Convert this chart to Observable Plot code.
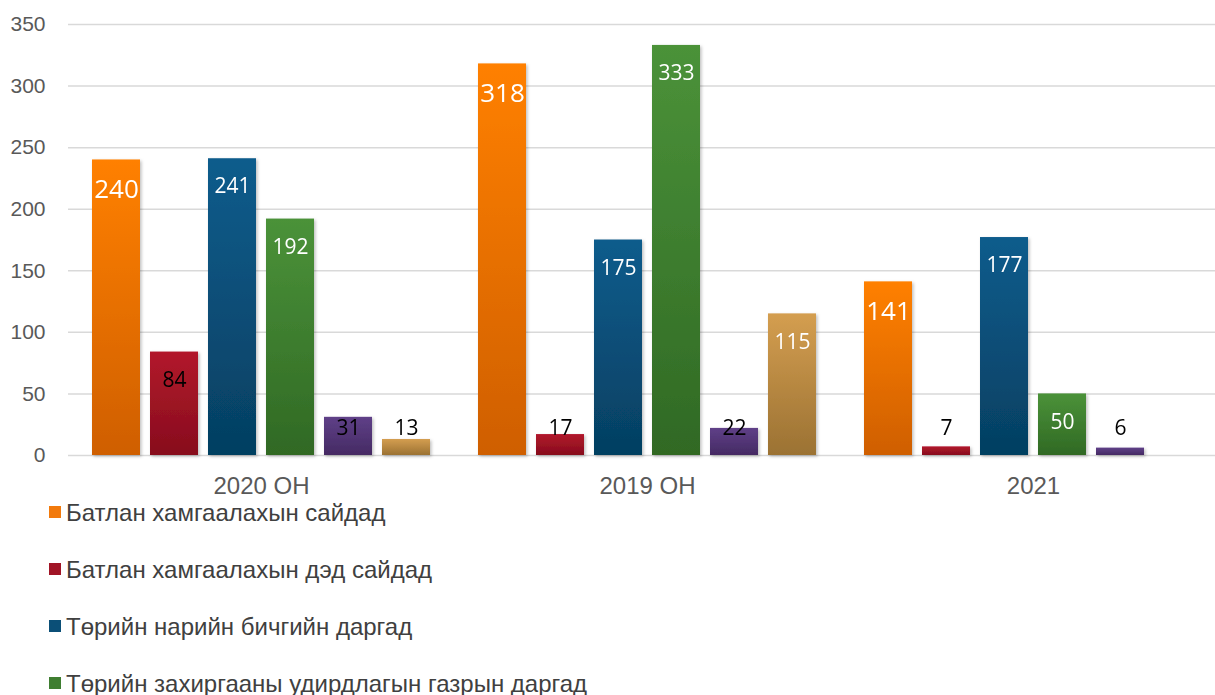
<!DOCTYPE html>
<html><head><meta charset="utf-8">
<script src="https://cdn.jsdelivr.net/npm/d3@7"></script>
<script src="https://cdn.jsdelivr.net/npm/@observablehq/plot@0.6"></script>
<style>
html,body{margin:0;padding:0;background:#fff;overflow:hidden;width:1215px;height:695px;}
#chart{position:absolute;left:0;top:0;}
#legend{position:absolute;left:49px;top:484px;font-family:"Liberation Sans",Arial,sans-serif;font-size:24px;color:#404040;}
.item{height:57px;display:flex;align-items:center;white-space:nowrap;}
.sw{width:12px;height:12px;margin-right:5px;margin-top:-2px;flex:none;}
</style>
</head><body><div id="chart"></div><div id="legend"></div>
<script>
const groups = ["2020 ОН", "2019 ОН", "2021"];
const series = [
  "Батлан хамгаалахын сайдад",
  "Батлан хамгаалахын дэд сайдад",
  "Төрийн нарийн бичгийн даргад",
  "Төрийн захиргааны удирдлагын газрын даргад",
  "Бусад 1",
  "Бусад 2"
];
const values2020 = [240, 84, 241, 192, 31, 13];
const values2019 = [318, 17, 175, 333, 22, 115];
const values2021 = [141, 7, 177, 50, 6, null];
const yTicks = [0, 50, 100, 150, 200, 250, 300, 350];

const gradTop = ["#ff8000", "#b2182b", "#0e5c8c", "#4b9239", "#5f4088", "#d49e50"];
const gradBottom = ["#cf5f00", "#870d1d", "#053f61", "#306924", "#452a63", "#9b7233"];
const legendColors = ["#f27a0c", "#a11426", "#0b4f77", "#3f7e31", "#54377a", "#b98845"];
const darkLabelSeries = [1, 4];

const table = [values2020, values2019, values2021];
const data = groups.flatMap((g, gi) => series.map((s, si) => ({group: g, series: s, si, value: table[gi][si]})))
  .filter(d => d.value != null);
const big = data.filter(d => d.si === 0);
const small = data.filter(d => d.si !== 0);
const labelFill = d => (darkLabelSeries.includes(d.si) || d.value < 30) ? "#000" : "#fff";

const chart = Plot.plot({
  width: 1226,
  height: 500,
  marginLeft: 67,
  marginRight: 0,
  marginTop: 24,
  marginBottom: 45,
  style: {maxWidth: "none", fontFamily: "Liberation Sans, Arial, sans-serif", background: "white"},
  fx: {domain: groups, padding: 0, label: null},
  x: {domain: series, paddingInner: 0.18, paddingOuter: 0.394, axis: null},
  y: {domain: [0, 350], label: null},
  color: {domain: series, range: series.map((_, i) => `url(#grad${i})`)},
  marks: [
    Plot.ruleY(yTicks, {stroke: "#d9d9d9", strokeWidth: 1.5}),
    Plot.axisY({ticks: yTicks, tickSize: 0, tickPadding: 23, fontSize: 21, fill: "#595959", label: null}),
    Plot.axisFx({anchor: "bottom", tickSize: 0, tickPadding: 21, fontSize: 24, fill: "#595959", label: null}),
    Plot.barY(data, {fx: "group", x: "series", y: "value", fill: "series"}),
    Plot.text(small, {
      fx: "group", x: "series",
      y: d => Math.max(d.value - 22.7, 22),
      text: d => String(d.value),
      fill: labelFill,
      fontSize: 21,
      fontFamily: "Open Sans, Noto Sans, sans-serif"
    }),
    Plot.text(big, {
      fx: "group", x: "series",
      y: d => Math.max(d.value - 24.3, 22),
      text: d => String(d.value),
      fill: labelFill,
      fontSize: 26,
      fontFamily: "Open Sans, Noto Sans, sans-serif"
    })
  ]
});

const svg = d3.select(chart);
const defs = svg.insert("defs", ":first-child");
gradTop.forEach((c, i) => {
  const g = defs.append("linearGradient").attr("id", `grad${i}`).attr("x1", 0).attr("y1", 0).attr("x2", 0).attr("y2", 1);
  g.append("stop").attr("offset", "0%").attr("stop-color", c);
  g.append("stop").attr("offset", "100%").attr("stop-color", gradBottom[i]);
});
const f = defs.append("filter").attr("id", "shadow").attr("x", "-20%").attr("y", "-20%").attr("width", "140%").attr("height", "140%");
f.append("feDropShadow").attr("dx", 1.5).attr("dy", 1.5).attr("stdDeviation", 1.5).attr("flood-color", "#000").attr("flood-opacity", 0.25);
svg.selectAll('g[aria-label="bar"]').attr("filter", "url(#shadow)");

document.getElementById("chart").appendChild(chart);

const legend = d3.select("#legend");
series.forEach((s, i) => {
  const item = legend.append("div").attr("class", "item");
  item.append("div").attr("class", "sw").style("background", legendColors[i]);
  item.append("span").text(s);
});
</script>
</body></html>
